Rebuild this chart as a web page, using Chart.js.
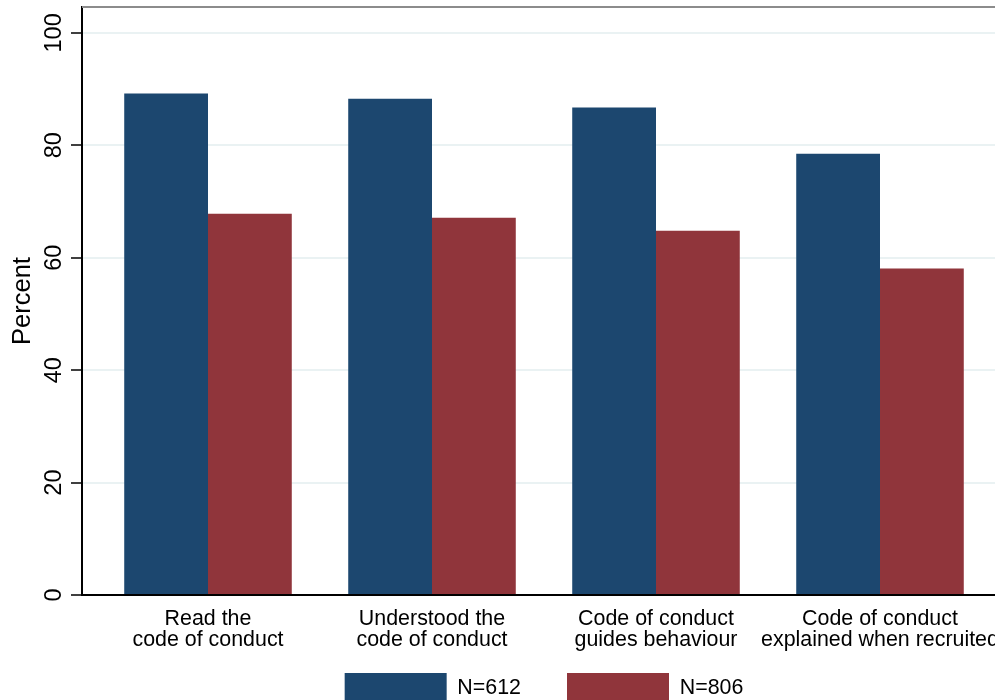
<!DOCTYPE html>
<html lang="en">
<head>
    <meta charset="UTF-8">
    <title>Code of conduct - Grouped Bar Chart</title>
    <script src="https://cdn.jsdelivr.net/npm/chart.js"></script>
    <style>
        html, body { margin: 0; padding: 0; overflow: hidden; background: #fff; }
        #wrap { position: absolute; left: 0; top: 0; width: 1006px; height: 713px; }
    </style>
</head>
<body>
    <div id="wrap"><canvas id="groupedBarChart"></canvas></div>

    <script>
        // Data
        const categories = [
            ['Read the', 'code of conduct'],
            ['Understood the', 'code of conduct'],
            ['Code of conduct', 'guides behaviour'],
            ['Code of conduct', 'explained when recruited']
        ];
        const seriesLabels = ['N=612', 'N=806'];
        const n612Values = [89.2, 88.3, 86.7, 78.5];
        const n806Values = [67.8, 67.1, 64.8, 58.1];
        const yTicks = [0, 20, 40, 60, 80, 100];

        const FONT = '"Liberation Sans", Arial, Helvetica, sans-serif';

        // Grey frame line along the top of the plot region,
        // and let the two-line x labels run into the legend's top padding
        const frame = {
            id: 'frame',
            afterLayout(chart) {
                chart.scales.x.bottom = chart.height;
            },
            afterDraw(chart) {
                const { ctx, chartArea } = chart;
                ctx.save();
                ctx.strokeStyle = '#8c8c8c';
                ctx.lineWidth = 2;
                ctx.beginPath();
                ctx.moveTo(chartArea.left, chartArea.top);
                ctx.lineTo(chartArea.right, chartArea.top);
                ctx.stroke();
                ctx.restore();
            }
        };

        const toPoints = values => values.map((v, i) => ({ x: i, y: v }));

        new Chart(document.getElementById('groupedBarChart'), {
            type: 'bar',
            data: {
                datasets: [
                    { label: seriesLabels[0], data: toPoints(n612Values), backgroundColor: '#1c476f' },
                    { label: seriesLabels[1], data: toPoints(n806Values), backgroundColor: '#90353b' }
                ]
            },
            options: {
                responsive: true,
                maintainAspectRatio: false,
                animation: false,
                categoryPercentage: 0.748,
                barPercentage: 1.0,
                layout: { padding: { top: 7, right: 0, bottom: 0, left: 0 } },
                plugins: {
                    tooltip: { enabled: false },
                    legend: {
                        position: 'bottom',
                        fullSize: false,
                        labels: {
                            color: '#000',
                            boxWidth: 102,
                            boxHeight: 30,
                            padding: 46,
                            font: { family: FONT, size: 21.4 }
                        }
                    }
                },
                scales: {
                    x: {
                        type: 'linear',
                        offset: false,
                        min: -0.5625,
                        max: 3.5625,
                        afterBuildTicks: axis => { axis.ticks = categories.map((c, i) => ({ value: i })); },
                        afterFit: axis => { axis.height = 32; axis.paddingLeft = 0; axis.paddingRight = 0; },
                        grid: { display: false },
                        border: { color: '#000', width: 2 },
                        ticks: {
                            color: '#000',
                            padding: 5,
                            autoSkip: false,
                            maxRotation: 0,
                            font: { family: FONT, size: 21.4, lineHeight: 1.0 },
                            callback: value => categories[value]
                        }
                    },
                    y: {
                        min: 0,
                        max: 104.6,
                        afterBuildTicks: axis => { axis.ticks = yTicks.map(v => ({ value: v })); },
                        afterFit: axis => { axis.width = 82; axis.paddingTop = 0; axis.paddingBottom = 0; },
                        grid: {
                            color: '#eaf2f3',
                            lineWidth: 2,
                            tickColor: '#000',
                            tickLength: 11,
                            tickWidth: 1.5
                        },
                        border: { color: '#000', width: 2 },
                        ticks: {
                            color: '#000',
                            padding: -3,
                            minRotation: 90,
                            maxRotation: 90,
                            crossAlign: 'center',
                            font: { family: FONT, size: 23.5 }
                        },
                        title: {
                            display: true,
                            text: 'Percent',
                            color: '#000',
                            padding: { top: 8, bottom: 0 },
                            font: { family: FONT, size: 25.5 }
                        }
                    }
                }
            },
            plugins: [frame]
        });
    </script>
</body>
</html>
